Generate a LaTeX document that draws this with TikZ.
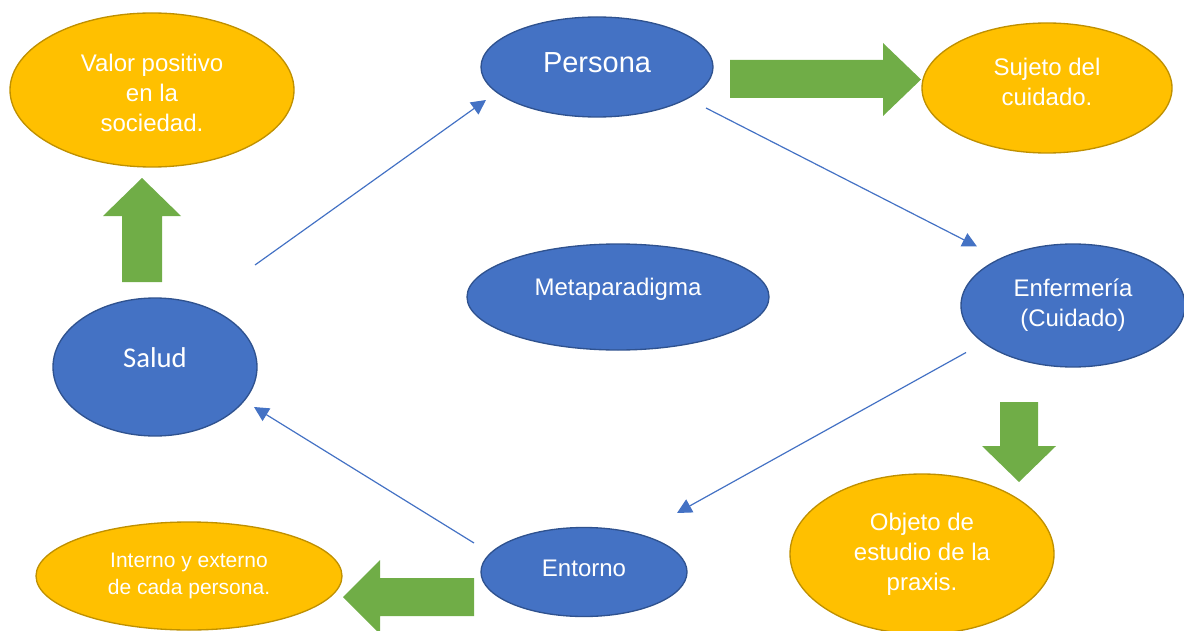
\documentclass[tikz,border=0pt]{standalone}
\usepackage{fontspec}
\setmainfont{Liberation Sans}
\newfontfamily\calibri{Carlito}
\usepackage{xcolor}
\usetikzlibrary{shapes.geometric}
\usetikzlibrary{arrows.meta}

\definecolor{nodeblue}{HTML}{4472C4}
\definecolor{blueedge}{HTML}{2F528F}
\definecolor{nodegold}{HTML}{FFC000}
\definecolor{goldedge}{HTML}{BF9000}
\definecolor{fatgreen}{HTML}{70AD47}

\tikzset{
  oval/.style 2 args={ellipse, inner sep=0pt, line width=1pt,
    minimum width=#1*0.75pt, minimum height=#2*0.75pt},
  blue ellipse/.style={draw=blueedge, fill=nodeblue},
  gold ellipse/.style={draw=goldedge, fill=nodegold},
  txt/.style={text=white, align=center, font=\fontsize{18}{22.5}\selectfont},
  link/.style={draw=nodeblue, line width=0.9pt,
    -{Triangle[length=11pt,width=11pt]}},
  fat/.style={fill=fatgreen},
}

\begin{document}
\begin{tikzpicture}[x=0.75pt,y=-0.75pt]
  \useasboundingbox (0,0) rectangle (1184,631);

  \node[oval={284}{154}, gold ellipse,
    label={[txt,yshift=-2pt]center:Valor positivo\\en la\\sociedad.}] (valor) at (152,90) {};
  \node[oval={232}{100}, blue ellipse,
    label={[txt,font=\fontsize{21.75}{26}\selectfont,yshift=3pt]center:Persona}] (persona) at (597,67) {};
  \node[oval={250}{130}, gold ellipse,
    label={[txt,yshift=4.5pt]center:Sujeto del\\cuidado.}] (sujeto) at (1047,88) {};
  \node[oval={302}{106}, blue ellipse,
    label={[txt,yshift=6pt]center:Metaparadigma}] (meta) at (618,297) {};
  \node[oval={224}{123}, blue ellipse,
    label={[txt]center:Enfermería\\(Cuidado)}] (enf) at (1073,305.5) {};
  \node[oval={204}{138}, blue ellipse,
    label={[txt,font=\calibri\fontsize{21.5}{26}\selectfont,yshift=7pt]center:Salud}] (salud) at (155,367) {};
  \node[oval={264}{160}, gold ellipse,
    label={[txt]center:Objeto de\\estudio de la\\praxis.}] (objeto) at (922,554) {};
  \node[oval={206}{89}, blue ellipse,
    label={[txt,yshift=3pt]center:Entorno}] (entorno) at (584,572) {};
  \node[oval={306}{108}, gold ellipse,
    label={[txt,font=\fontsize{15.75}{20.25}\selectfont]center:Interno y externo\\de cada persona.}] (interno) at (189,576) {};

  % thin links round the cycle
  \path (salud.center) +(100,-102) coordinate (saludo);
  \path (persona.center) +(-111,33) coordinate (personai);
  \draw[link] (saludo) -- (personai);
  \path (persona.center) +(109,41) coordinate (personao);
  \path (enf.center) +(-96,-59) coordinate (enfi);
  \draw[link] (personao) -- (enfi);
  \path (enf.center) +(-107,47) coordinate (enfo);
  \path (entorno.center) +(93,-59) coordinate (entornoi);
  \draw[link] (enfo) -- (entornoi);
  \path (entorno.center) +(-110,-29) coordinate (entornoo);
  \path (salud.center) +(99,40) coordinate (saludi);
  \draw[link] (entornoo) -- (saludi);

  % block arrows
  \fill[fat] (122,282) -- ++(0,-66) -- ++(-19,0) -- ++(39,-38)
    -- ++(39,38) -- ++(-19,0) -- ++(0,66) -- cycle;
  \fill[fat] (730,60) -- ++(153,0) -- ++(0,-17) -- ++(38,36.5)
    -- ++(-38,36.5) -- ++(0,-18) -- ++(-153,0) -- cycle;
  \fill[fat] (1000,402) -- ++(38,0) -- ++(0,44) -- ++(18,0)
    -- ++(-37,36) -- ++(-37,-36) -- ++(18,0) -- cycle;
  \fill[fat] (474,578) -- ++(-94,0) -- ++(0,-18) -- ++(-37,37)
    -- ++(37,37) -- ++(0,-18) -- ++(94,0) -- cycle;
\end{tikzpicture}
\end{document}
